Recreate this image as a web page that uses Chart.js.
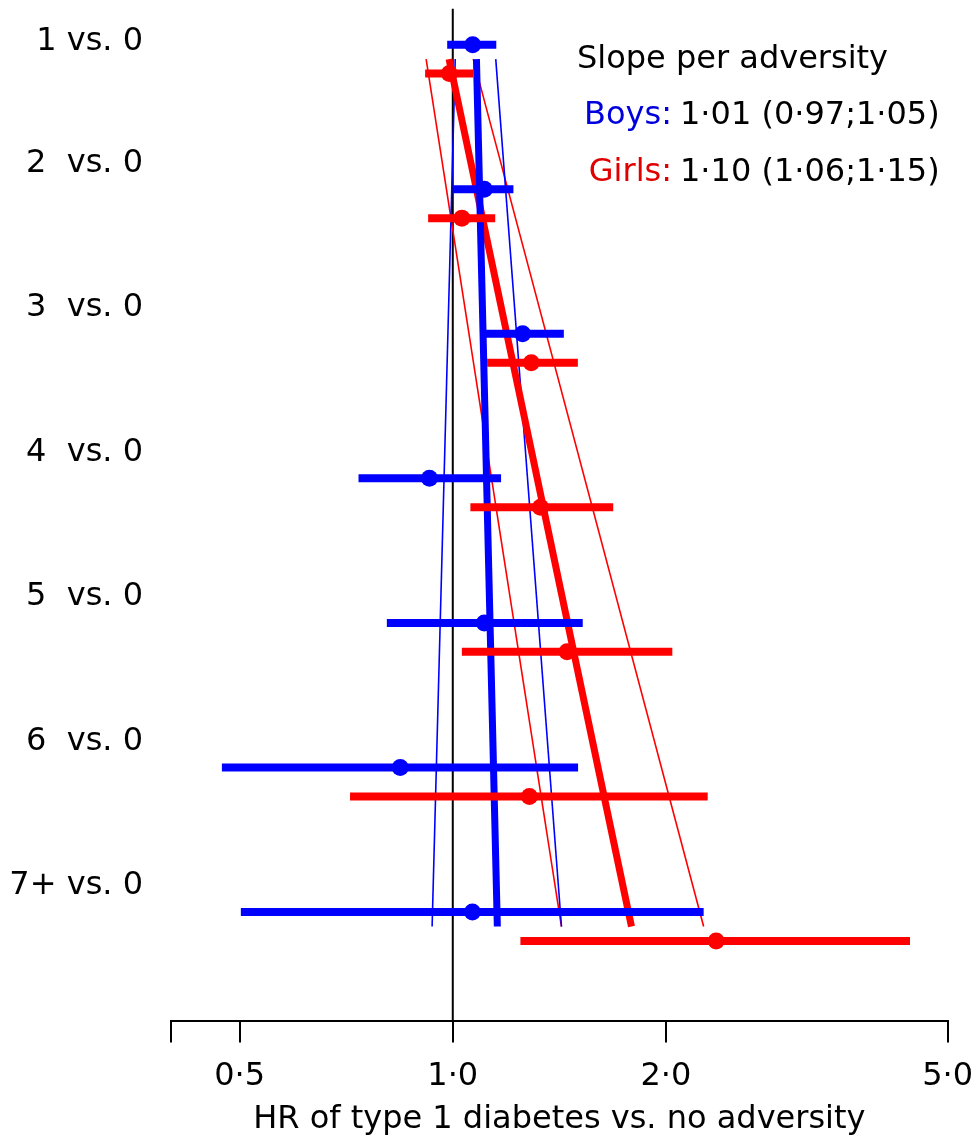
<!DOCTYPE html>
<html>
<head>
<meta charset="utf-8">
<script src="https://cdn.jsdelivr.net/npm/chart.js@4.4.1/dist/chart.umd.min.js"></script>
<style>
  html, body { margin: 0; padding: 0; background: #fff; }
  #grafico { display: block; }
</style>
</head>
<body>
<canvas id="grafico" width="978" height="1146"></canvas>
<script>
// righe (categorie) e relative etichette
const rows = [1, 2, 3, 4, 5, 6, 7];
const rowLabels = ['1 vs. 0', '2  vs. 0', '3  vs. 0', '4  vs. 0', '5  vs. 0', '6  vs. 0', '7+ vs. 0'];

// HR e intervalli di confidenza - maschi
const boysHR = [1.067, 1.108, 1.255, 0.927, 1.108, 0.843, 1.066];
const boysLo = [0.982, 1.000, 1.105, 0.736, 0.807, 0.472, 0.502];
const boysHi = [1.152, 1.218, 1.435, 1.170, 1.526, 1.503, 2.261];

// HR e intervalli di confidenza - femmine
const girlsHR = [0.989, 1.030, 1.291, 1.330, 1.450, 1.283, 2.355];
const girlsLo = [0.914, 0.923, 1.118, 1.059, 1.030, 0.716, 1.246];
const girlsHi = [1.069, 1.148, 1.502, 1.685, 2.042, 2.291, 4.423];

// retta di tendenza (slope per adversity) con banda
const trendRows = [1.1, 7.1];
const boysFit = [1.080, 1.156];
const boysFitLo = [1.008, 0.935];
const boysFitHi = [1.150, 1.424];
const girlsFit = [0.988, 1.788];
const girlsFitLo = [0.917, 1.424];
const girlsFitHi = [1.069, 2.261];

// asse x
const xTicks = [0.4, 0.5, 1, 2, 5];
const xTickLabels = ['', '0·5', '1·0', '2·0', '5·0'];

const BLU = '#0000ff';
const ROSSO = '#ff0000';
const FONT = 'DejaVu Sans';
const girlsShift = 0.2; // le femmine stanno sotto i maschi

const ciLines = (lo, hi, shift, colore) => rows.map((r, i) => ({
  data: [{ x: lo[i], y: r + shift }, { x: hi[i], y: r + shift }],
  showLine: true,
  borderColor: colore,
  borderWidth: 8,
  borderCapStyle: 'butt',
  pointRadius: 0,
  clip: false
}));

const trend = (vals, colore, spessore) => ({
  data: trendRows.map((r, i) => ({ x: vals[i], y: r })),
  showLine: true,
  borderColor: colore,
  borderWidth: spessore,
  pointRadius: 0,
  clip: false
});

const punti = (vals, shift, colore) => ({
  data: rows.map((r, i) => ({ x: vals[i], y: r + shift })),
  showLine: false,
  pointRadius: 8.5,
  pointBackgroundColor: colore,
  pointBorderWidth: 0,
  clip: false
});

// testo "Slope per adversity" in alto a destra
const legendaSlope = {
  id: 'legendaSlope',
  afterDraw(chart) {
    const ctx = chart.ctx;
    ctx.save();
    ctx.font = `32px "${FONT}"`;
    ctx.textBaseline = 'middle';
    ctx.fillStyle = '#000';
    ctx.textAlign = 'left';
    ctx.fillText('Slope per adversity', 577, 60);
    ctx.textAlign = 'right';
    ctx.fillStyle = '#0000dd';
    ctx.fillText('Boys:', 672, 116);
    ctx.fillStyle = '#e00000';
    ctx.fillText('Girls:', 672, 173);
    ctx.textAlign = 'left';
    ctx.fillStyle = '#000';
    ctx.fillText('1·01 (0·97;1·05)', 680, 116);
    ctx.fillText('1·10 (1·06;1·15)', 680, 173);
    ctx.restore();
  }
};

new Chart(document.getElementById('grafico'), {
  type: 'scatter',
  data: {
    datasets: [
      punti(boysHR, 0, BLU),
      punti(girlsHR, girlsShift, ROSSO),
      ...ciLines(boysLo, boysHi, 0, BLU),
      ...ciLines(girlsLo, girlsHi, girlsShift, ROSSO),
      trend(boysFit, BLU, 7),
      trend(girlsFit, ROSSO, 7),
      trend(boysFitLo, BLU, 1.6),
      trend(boysFitHi, BLU, 1.6),
      trend(girlsFitLo, ROSSO, 1.6),
      trend(girlsFitHi, ROSSO, 1.6),
      {
        // linea di riferimento HR = 1
        data: [{ x: 1, y: 0.75 }, { x: 1, y: 7.75 }],
        showLine: true,
        borderColor: '#000',
        borderWidth: 2,
        pointRadius: 0
      }
    ]
  },
  options: {
    responsive: false,
    animation: false,
    devicePixelRatio: 1,
    layout: { padding: { top: 7.85, right: 30.3, bottom: 0, left: 0 } },
    plugins: { legend: { display: false }, tooltip: { enabled: false } },
    scales: {
      x: {
        type: 'logarithmic',
        min: 0.4,
        max: 5,
        afterBuildTicks: s => { s.ticks = xTicks.map(v => ({ value: v })); },
        afterFit: s => { s.height = 125.5; s.paddingLeft = 0; s.paddingRight = 0; },
        ticks: {
          autoSkip: false,
          maxRotation: 0,
          padding: 15,
          color: '#000',
          font: { family: FONT, size: 32 },
          callback: (v, i) => xTickLabels[i]
        },
        grid: { drawOnChartArea: false, drawTicks: true, tickLength: 22, color: '#000', lineWidth: 2 },
        border: { display: true, color: '#000', width: 2 },
        title: {
          display: true,
          text: 'HR of type 1 diabetes vs. no adversity',
          color: '#000',
          font: { family: FONT, size: 32 },
          padding: { top: 0, bottom: 7 }
        }
      },
      y: {
        type: 'linear',
        reverse: true,
        min: 0.75,
        max: 7.75,
        afterBuildTicks: s => {
          s.ticks = rows.map((r, i) => ({ value: i === 0 ? r - 0.02 : r - 0.18 }));
        },
        afterFit: s => { s.width = 171; s.paddingTop = 0; s.paddingBottom = 0; },
        ticks: {
          autoSkip: false,
          padding: 20,
          color: '#000',
          font: { family: FONT, size: 32 },
          callback: (v, i) => rowLabels[i]
        },
        grid: { display: false },
        border: { display: false }
      }
    }
  },
  plugins: [legendaSlope]
});
</script>
</body>
</html>
